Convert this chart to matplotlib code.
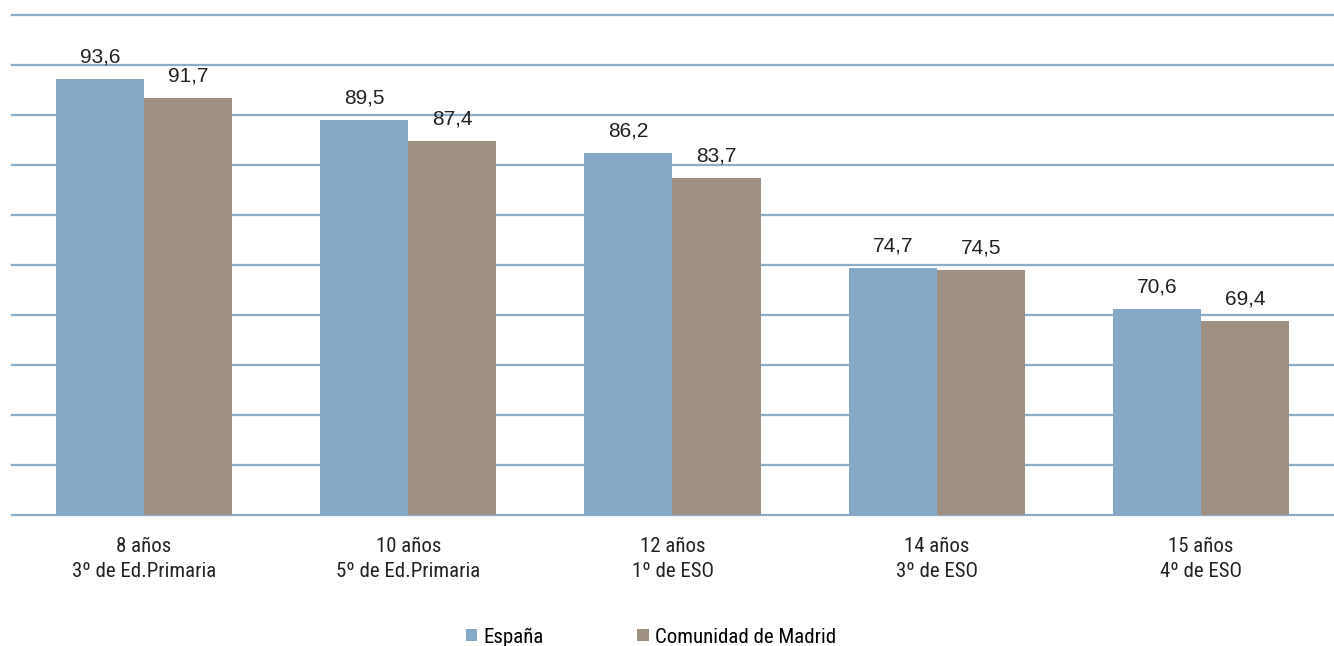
import matplotlib.pyplot as plt
import numpy as np

categories = ['8 años\n3º de Ed.Primaria', '10 años\n5º de Ed.Primaria',
              '12 años\n1º de ESO', '14 años\n3º de ESO', '15 años\n4º de ESO']
espana = [93.6, 89.5, 86.2, 74.7, 70.6]
madrid = [91.7, 87.4, 83.7, 74.5, 69.4]
series_names = ['España', 'Comunidad de Madrid']

narrow = ['Roboto Condensed', 'DejaVu Sans']
regular = ['Liberation Sans', 'DejaVu Sans']

fig = plt.figure(figsize=(13.34, 6.46), dpi=100)
ax = fig.add_axes([12 / 1334, 131 / 646, 1321 / 1334, 500 / 646])

x = np.arange(len(categories))
w = 1 / 3
b1 = ax.bar(x - w / 2, [v - 50 for v in espana], w, bottom=50, color='#85A8C6', zorder=3, label=series_names[0])
b2 = ax.bar(x + w / 2, [v - 50 for v in madrid], w, bottom=50, color='#9E9184', zorder=3, label=series_names[1])

# value labels with comma decimals
for bars, vals in [(b1, espana), (b2, madrid)]:
    for rect, v in zip(bars, vals):
        ax.annotate(f'{v:.1f}'.replace('.', ','), (rect.get_x() + rect.get_width() / 2, v),
                    xytext=(0, 9), textcoords='offset points', ha='center', va='bottom',
                    fontsize=15, family=regular, color='#222222')

ax.set_ylim(50, 100)
ax.set_xlim(-0.5, len(categories) - 0.5)
for yv in np.arange(50, 101, 5):
    ax.axhline(yv, color='#8CADC8', linewidth=1.6, zorder=1, clip_on=False)

ax.set_yticks([])
ax.set_xticks(x)
ax.set_xticklabels(categories, family=narrow, fontsize=15, color='#222222', linespacing=1.4)
ax.tick_params(axis='x', length=0, pad=16)
for s in ax.spines.values():
    s.set_visible(False)

leg = fig.legend(loc='center', ncol=2, frameon=False,
                 prop={'family': narrow, 'size': 15}, handlelength=0.55, handleheight=0.55,
                 handletextpad=0.3, columnspacing=4.5)
leg.set_bbox_to_anchor((0.488, 1 - 637 / 646), transform=fig.transFigure)

plt.savefig('out.png', dpi=100)
